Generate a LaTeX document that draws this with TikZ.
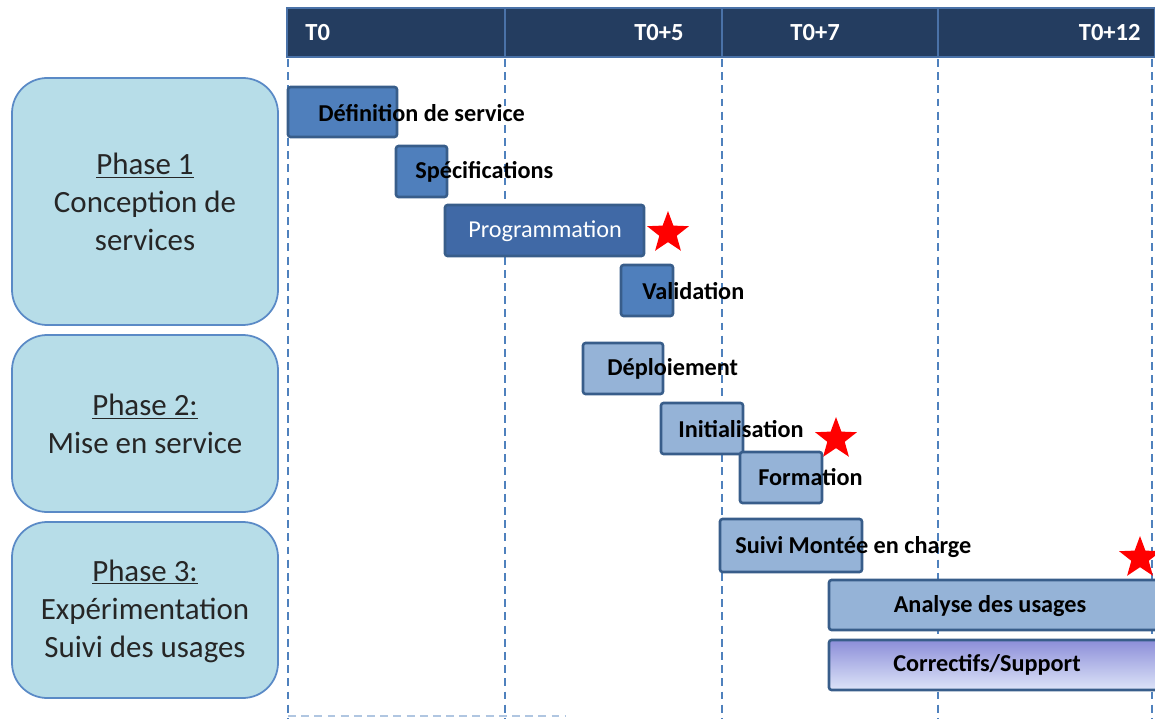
\documentclass[tikz,border=0pt]{standalone}
\usepackage{fontspec}
\setmainfont{Carlito}
\usetikzlibrary{shapes.geometric}
\usetikzlibrary{positioning}
\definecolor{headnavy}{HTML}{243D60}
\definecolor{headline}{HTML}{4A72A8}
\definecolor{gridblue}{HTML}{4F81BD}
\definecolor{darkbar}{HTML}{4F7FBC}
\definecolor{progbar}{HTML}{4069A6}
\definecolor{lightbar}{HTML}{95B3D7}
\definecolor{barline}{HTML}{385D8A}
\definecolor{phasefill}{HTML}{B7DDE8}
\definecolor{phaseline}{HTML}{5A8AC6}
\definecolor{supporttop}{HTML}{8C8ED9}
\definecolor{supportmid}{HTML}{CDD5F3}
\definecolor{supportbot}{HTML}{DDE4F8}

\begin{document}
\begin{tikzpicture}[x=0.02cm, y=-0.02cm,
    headcell/.style={fill=headnavy, draw=headline, line width=1.2pt},
    headlabel/.style={text=white, font=\bfseries\fontsize{14}{16}\selectfont, inner sep=0pt},
    gridline/.style={draw=gridblue, dashed, line width=1pt, dash pattern=on 4.5pt off 3pt},
    phasebox/.style={fill=phasefill, draw=phaseline, line width=1pt, rounded corners=20pt},
    phasetext/.style={align=center, text=black!85, font=\fontsize{17.6}{21.6}\selectfont},
    darktask/.style={fill=darkbar, draw=barline, line width=1.5pt, rounded corners=1.5pt},
    lighttask/.style={fill=lightbar, draw=barline, line width=1.5pt, rounded corners=1.5pt},
    tasklabel/.style={anchor=west, inner sep=0pt, font=\bfseries\fontsize{13.8}{15}\selectfont},
    milestone/.style={star, star points=5, star point ratio=2.4, fill=red, inner sep=0pt, minimum size=25pt}
  ]
  \useasboundingbox (0,0) rectangle (1155,719);

  % time axis
  \draw[headcell] (287, 8) rectangle (505, 57);
  \draw[headcell] (505, 8) rectangle (722, 57);
  \draw[headcell] (722, 8) rectangle (938, 57);
  \draw[headcell] (938, 8) rectangle (1155, 57);
  \node[headlabel, anchor=west] (t0) at (305, 33) {T0};
  \node[headlabel, anchor=east] (t5) at (684, 33) {T0+5};
  \node[headlabel, anchor=west] (t7) at (790, 33) {T0+7};
  \node[headlabel, anchor=east] (t12) at (1141, 33) {T0+12};

  % dashed grid
  \foreach \gx in {288, 505, 722, 938, 1152}
    \draw[gridline] (\gx, 59) -- (\gx, 719);
  \draw[gridline, draw=gridblue!45] (288, 716) -- (565, 716);

  % phases
  \draw[phasebox] (12, 78) rectangle (278, 325);
  \draw[phasebox] (12, 335) rectangle (278, 512);
  \draw[phasebox] (12, 522) rectangle (278, 698);
  \node[phasetext] (phase1) at (145, 202) {\underline{Phase 1}\\Conception de\\services};
  \node[phasetext] (phase2) at (145, 424) {\underline{Phase 2:}\\Mise en service};
  \node[phasetext] (phase3) at (145, 611) {\underline{Phase 3:}\\Expérimentation\\Suivi des usages};

  % phase 1 tasks
  \draw[darktask] (288, 87) rectangle (397, 137);
  \node[tasklabel] (definition) at (318, 113) {Définition de service};
  \draw[darktask] (396, 146) rectangle (447, 197);
  \node[tasklabel] (specs) at (415, 172) {Spécifications};
  \draw[darktask, fill=progbar] (445, 205) rectangle (644, 256);
  \node[text=white, font=\fontsize{13.8}{15}\selectfont] (prog) at (545, 231) {Programmation};
  \node[milestone] (star1) at (668, 233) {};
  \draw[darktask] (621, 265) rectangle (673, 316);
  \node[tasklabel] (validation) at (642, 291) {Validation};

  % phase 2 tasks
  \draw[lighttask] (583, 343) rectangle (663, 394);
  \node[tasklabel] (deploiement) at (607, 369) {Déploiement};
  \draw[lighttask] (661, 403) rectangle (743, 454);
  \node[tasklabel] (init) at (678, 429) {Initialisation};
  \node[milestone] (star2) at (836, 439) {};
  \draw[lighttask] (740, 452) rectangle (822, 503);
  \node[tasklabel] (formation) at (758, 477) {Formation};

  % phase 3 tasks
  \draw[lighttask] (720, 519) rectangle (862, 572);
  \node[tasklabel] (suivi) at (735, 547) {Suivi Montée en charge};
  \node[milestone] (star3) at (1140, 558) {};
  \draw[lighttask] (829, 580) rectangle (1160, 630);
  \node[tasklabel, anchor=center] (analyse) at (990, 606) {Analyse des usages};
  \draw[lighttask, top color=supporttop, middle color=supportmid, bottom color=supportbot] (829, 640) rectangle (1160, 690);
  \node[tasklabel, anchor=center] (correctifs) at (987, 665) {Correctifs/Support};
\end{tikzpicture}
\end{document}
